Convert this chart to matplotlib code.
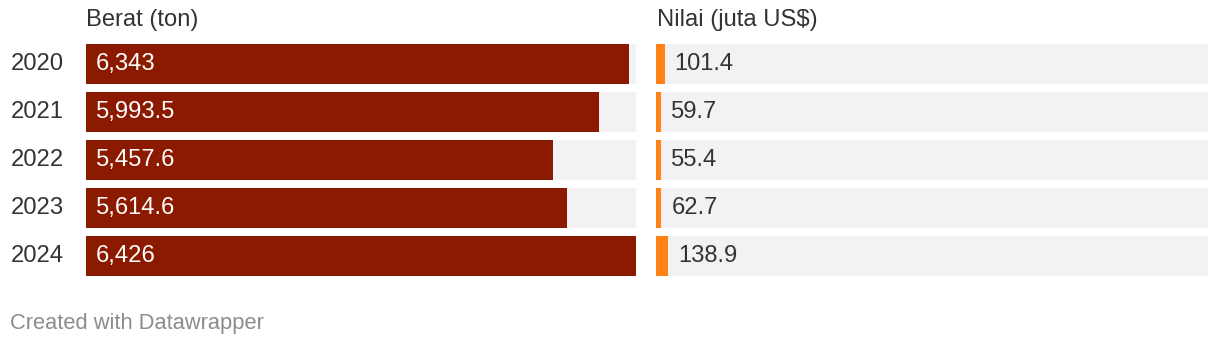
import matplotlib
matplotlib.use("Agg")
import matplotlib.pyplot as plt

plt.rcParams['font.family'] = ['Liberation Sans', 'DejaVu Sans']

years = ["2020", "2021", "2022", "2023", "2024"]
berat = [6343, 5993.5, 5457.6, 5614.6, 6426]
berat_labels = ["6,343", "5,993.5", "5,457.6", "5,614.6", "6,426"]
nilai = [101.4, 59.7, 55.4, 62.7, 138.9]
nilai_labels = ["101.4", "59.7", "55.4", "62.7", "138.9"]
title_left = "Berat (ton)"
title_right = "Nilai (juta US$)"
footer = "Created with Datawrapper"

W, H = 1220, 348
DPI = 100
fig = plt.figure(figsize=(W / DPI, H / DPI), dpi=DPI)
fig.patch.set_facecolor("white")

RED = "#8b1a00"
ORANGE = "#ff8217"
BG = "#f2f2f2"
TXT = "#333333"
FS = 17.1
PX = 72 / DPI  # points per pixel

top_px, bot_px = 44, 276
pitch = 48
barh_px = 40
bh = barh_px / pitch
half = bh / 2

def make_ax(x0, w):
    ax = fig.add_axes([x0 / W, (H - bot_px) / H, w / W, (bot_px - top_px) / H])
    ax.set_ylim(len(years) - 1 + half, -half)
    for s in ax.spines.values():
        s.set_visible(False)
    ax.set_xticks([])
    ax.set_yticks([])
    ax.patch.set_alpha(0)
    return ax

left_w, right_w = 550, 552
vmax = max(berat)
ypos = list(range(len(years)))

axL = make_ax(86, left_w)
axL.set_xlim(0, vmax)
axL.barh(ypos, [vmax] * len(years), height=bh, color=BG, linewidth=0)
axL.barh(ypos, berat, height=bh, color=RED, linewidth=0)
for y, lab in zip(ypos, berat_labels):
    axL.annotate(lab, xy=(0, y), xytext=(10 * PX, 0), textcoords="offset points",
                 ha="left", va="center", color="white", fontsize=FS)
for y, yr in zip(ypos, years):
    axL.annotate(yr, xy=(0, y), xytext=(-22 * PX, 0), textcoords="offset points",
                 ha="right", va="center", color=TXT, fontsize=FS,
                 annotation_clip=False)

axR = make_ax(656, right_w)
rmax = vmax * right_w / left_w
axR.set_xlim(0, rmax)
axR.barh(ypos, [rmax] * len(years), height=bh, color=BG, linewidth=0)
axR.barh(ypos, nilai, height=bh, color=ORANGE, linewidth=0)
for y, v, lab in zip(ypos, nilai, nilai_labels):
    axR.annotate(lab, xy=(v, y), xytext=(10 * PX, 0), textcoords="offset points",
                 ha="left", va="center", color=TXT, fontsize=FS)

fig.text(86 / W, 1 - 20 / H, title_left, ha="left", va="center", color=TXT, fontsize=FS)
fig.text(657 / W, 1 - 20 / H, title_right, ha="left", va="center", color=TXT, fontsize=FS)
fig.text(10 / W, 1 - 324 / H, footer, ha="left", va="center", color="#8c8c8c", fontsize=FS * 0.92)

fig.savefig("out.png", dpi=DPI, facecolor="white")
